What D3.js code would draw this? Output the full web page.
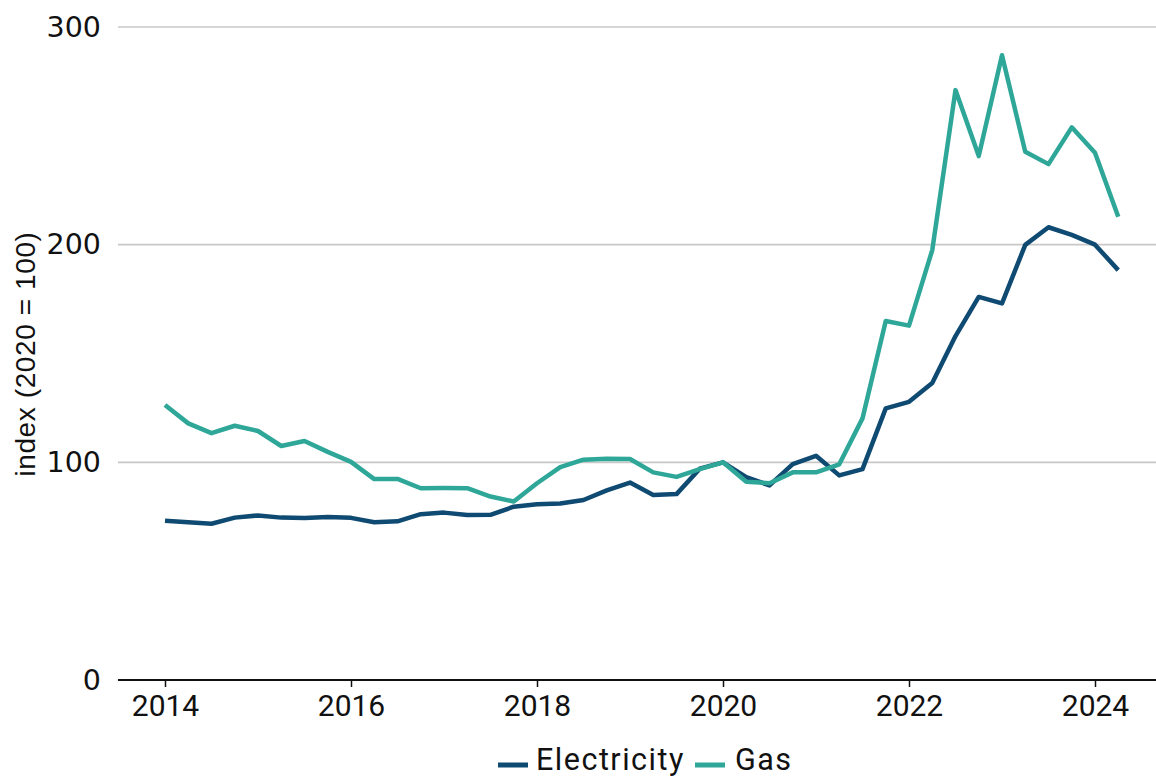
<!DOCTYPE html>
<html>
<head>
<meta charset="utf-8">
<script src="https://cdn.jsdelivr.net/npm/d3@7"></script>
<style>
  html, body { margin: 0; padding: 0; background: #fff; }
  svg { display: block; }
</style>
</head>
<body>
<svg id="chart" width="1156" height="778"></svg>
<script>
const quarters = [
  "2014Q1","2014Q2","2014Q3","2014Q4","2015Q1","2015Q2","2015Q3","2015Q4",
  "2016Q1","2016Q2","2016Q3","2016Q4","2017Q1","2017Q2","2017Q3","2017Q4",
  "2018Q1","2018Q2","2018Q3","2018Q4","2019Q1","2019Q2","2019Q3","2019Q4",
  "2020Q1","2020Q2","2020Q3","2020Q4","2021Q1","2021Q2","2021Q3","2021Q4",
  "2022Q1","2022Q2","2022Q3","2022Q4","2023Q1","2023Q2","2023Q3","2023Q4",
  "2024Q1","2024Q2"
];
const electricity = [
  73.2, 72.5, 71.8, 74.6, 75.6, 74.6, 74.4, 74.9,
  74.5, 72.5, 72.9, 76.2, 76.9, 75.8, 75.9, 79.6,
  80.7, 81.1, 82.7, 87.1, 90.7, 85.0, 85.4, 97.1,
  100.0, 93.2, 89.4, 99.2, 103.0, 94.0, 96.9, 124.8,
  127.8, 136.4, 158.0, 176.0, 173.0, 199.9, 208.0, 204.5,
  200.0, 188.3
];
const gas = [
  126.3, 117.9, 113.4, 116.8, 114.4, 107.5, 109.8, 104.8,
  100.2, 92.3, 92.4, 88.1, 88.2, 88.1, 84.3, 82.0,
  90.4, 97.8, 101.2, 101.7, 101.5, 95.4, 93.3, 96.9,
  100.0, 91.1, 90.4, 95.4, 95.4, 99.1, 120.2, 164.9,
  162.8, 197.5, 271.0, 240.7, 287.0, 242.7, 237.0, 253.9,
  242.2, 212.8
];
const yTicks = [0, 100, 200, 300];
const xTicks = [2014, 2016, 2018, 2020, 2022, 2024];
const seriesNames = ["Electricity", "Gas"];
const seriesColors = ["#0f4a72", "#2ea799"];
const yLabel = "index (2020 = 100)";

const svg = d3.select("#chart");
const x = d3.scaleLinear().domain([2014, 2024]).range([165, 1095]);
const y = d3.scaleLinear().domain([0, 300]).range([680, 27]);
const parseQ = q => +q.slice(0, 4) + (+q.slice(5) - 1) / 4;

// gridlines
svg.append("g").selectAll("line").data(yTicks.filter(d => d > 0)).join("line")
  .attr("x1", 118).attr("x2", 1156)
  .attr("y1", d => y(d)).attr("y2", d => y(d))
  .attr("stroke", "#c8c8c8").attr("stroke-width", 1.6);

// y tick labels
svg.append("g").selectAll("text").data(yTicks).join("text")
  .attr("x", 101).attr("y", d => y(d))
  .attr("text-anchor", "end").attr("dominant-baseline", "central")
  .attr("font-family", "DejaVu Sans").attr("font-size", 28.5)
  .attr("fill", "#111")
  .text(d => d);

// x axis
const xAxis = d3.axisBottom(x).tickValues(xTicks).tickFormat(d3.format("d"))
  .tickSize(7).tickPadding(8);
const gx = svg.append("g").attr("transform", "translate(0,680)").call(xAxis);
gx.select(".domain").remove();
gx.selectAll(".tick line").attr("stroke", "#111").attr("stroke-width", 1.5);
gx.selectAll(".tick text").attr("font-family", "Roboto").attr("font-size", 30).attr("fill", "#111");
svg.append("line").attr("x1", 118).attr("x2", 1156).attr("y1", 680).attr("y2", 680)
  .attr("stroke", "#111").attr("stroke-width", 2);

// y label
svg.append("text")
  .attr("transform", "translate(35,354) rotate(-90)")
  .attr("text-anchor", "middle")
  .attr("font-family", "Liberation Sans").attr("font-size", 28)
  .attr("letter-spacing", 0.6)
  .attr("fill", "#111")
  .text(yLabel);

// lines
const line = d3.line().x((d, i) => x(parseQ(quarters[i]))).y(d => y(d));
[electricity, gas].forEach((s, k) => {
  svg.append("path").datum(s)
    .attr("d", line)
    .attr("fill", "none")
    .attr("stroke", seriesColors[k])
    .attr("stroke-width", 4.5)
    .attr("stroke-linejoin", "round");
});

// legend
const legend = svg.append("g");
const legItems = [
  {name: seriesNames[0], color: seriesColors[0], sx: 498, tx: 536},
  {name: seriesNames[1], color: seriesColors[1], sx: 695, tx: 735}
];
legItems.forEach(it => {
  legend.append("line").attr("x1", it.sx).attr("x2", it.sx + 30)
    .attr("y1", 765).attr("y2", 765)
    .attr("stroke", it.color).attr("stroke-width", 5);
  legend.append("text").attr("x", it.tx).attr("y", 770)
    .attr("font-family", "Roboto").attr("font-size", 30.5)
    .attr("letter-spacing", 1.5).attr("fill", "#111")
    .text(it.name);
});
</script>
</body>
</html>
